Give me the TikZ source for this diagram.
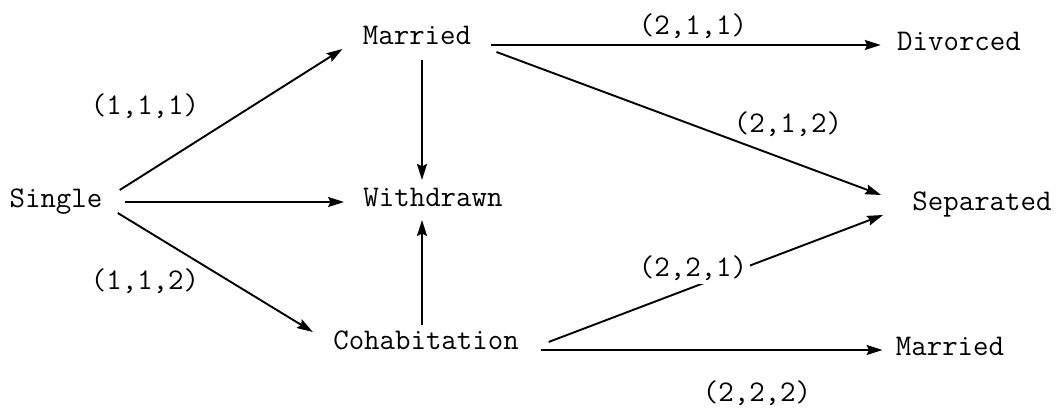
\documentclass[tikz,border=0pt]{standalone}
\usetikzlibrary{calc,arrows.meta}
\begin{document}
\begin{tikzpicture}[x=0.5pt,y=-0.5pt,
  lbl/.style={anchor=base,inner sep=0pt,font=\ttfamily\fontsize{15}{18}\selectfont},
  tag/.style={anchor=base,inner sep=1.5pt,font=\ttfamily\fontsize{15}{18}\selectfont},
  arr/.style={line width=0.95pt,-{Stealth[length=8pt,width=5pt,inset=1.2pt]}}]
\useasboundingbox (0,0) rectangle (1062,410);
% states
\node[lbl] (single) at (56,208) {Single};
\node[lbl] (married) at (417,45) {Married};
\node[lbl] (withdrawn) at (433,207) {Withdrawn};
\node[lbl] (cohab) at (426,350) {Cohabitation};
\node[lbl] (divorced) at (959,51) {Divorced};
\node[lbl] (separated) at (982,211) {Separated};
\node[lbl] (married2) at (950,356) {Married};
% transitions
\draw[arr] ($(single.base east)+(17,-18)$) -- ($(married.base west)+(-20,4)$);
\draw[arr] ($(single.base east)+(22,-6)$) -- ($(withdrawn.base west)+(-19,-5)$);
\draw[arr] ($(single.base east)+(15,5)$) -- ($(cohab.base west)+(-20,-18)$);
\draw[arr] ($(married.base)+(5,15)$) -- ($(withdrawn.base)+(-11,-27)$);
\draw[arr] ($(cohab.base)+(-4,-25)$) -- ($(withdrawn.base)+(-11,13)$);
\draw[arr] ($(married.base east)+(20,0)$) -- ($(divorced.base west)+(-16,-6)$);
\draw[arr] ($(married.base east)+(25,7)$) -- ($(separated.base west)+(-31,-16)$);
\draw[arr] ($(cohab.base east)+(29.5,-8)$) -- ($(separated.base west)+(-29,4)$);
\draw[arr] ($(cohab.base east)+(21.5,0)$) -- ($(married2.base west)+(-13,-6)$);
% labels
\node[tag] (l111) at (145,115) {(1,1,1)};
\node[tag] (l112) at (145,290) {(1,1,2)};
\node[tag] (l211) at (693,35) {(2,1,1)};
\node[tag] (l212) at (788,133) {(2,1,2)};
\node[tag,fill=white] (l221) at (693,277) {(2,2,1)};
\node[tag] (l222) at (757,402) {(2,2,2)};
\end{tikzpicture}
\end{document}
